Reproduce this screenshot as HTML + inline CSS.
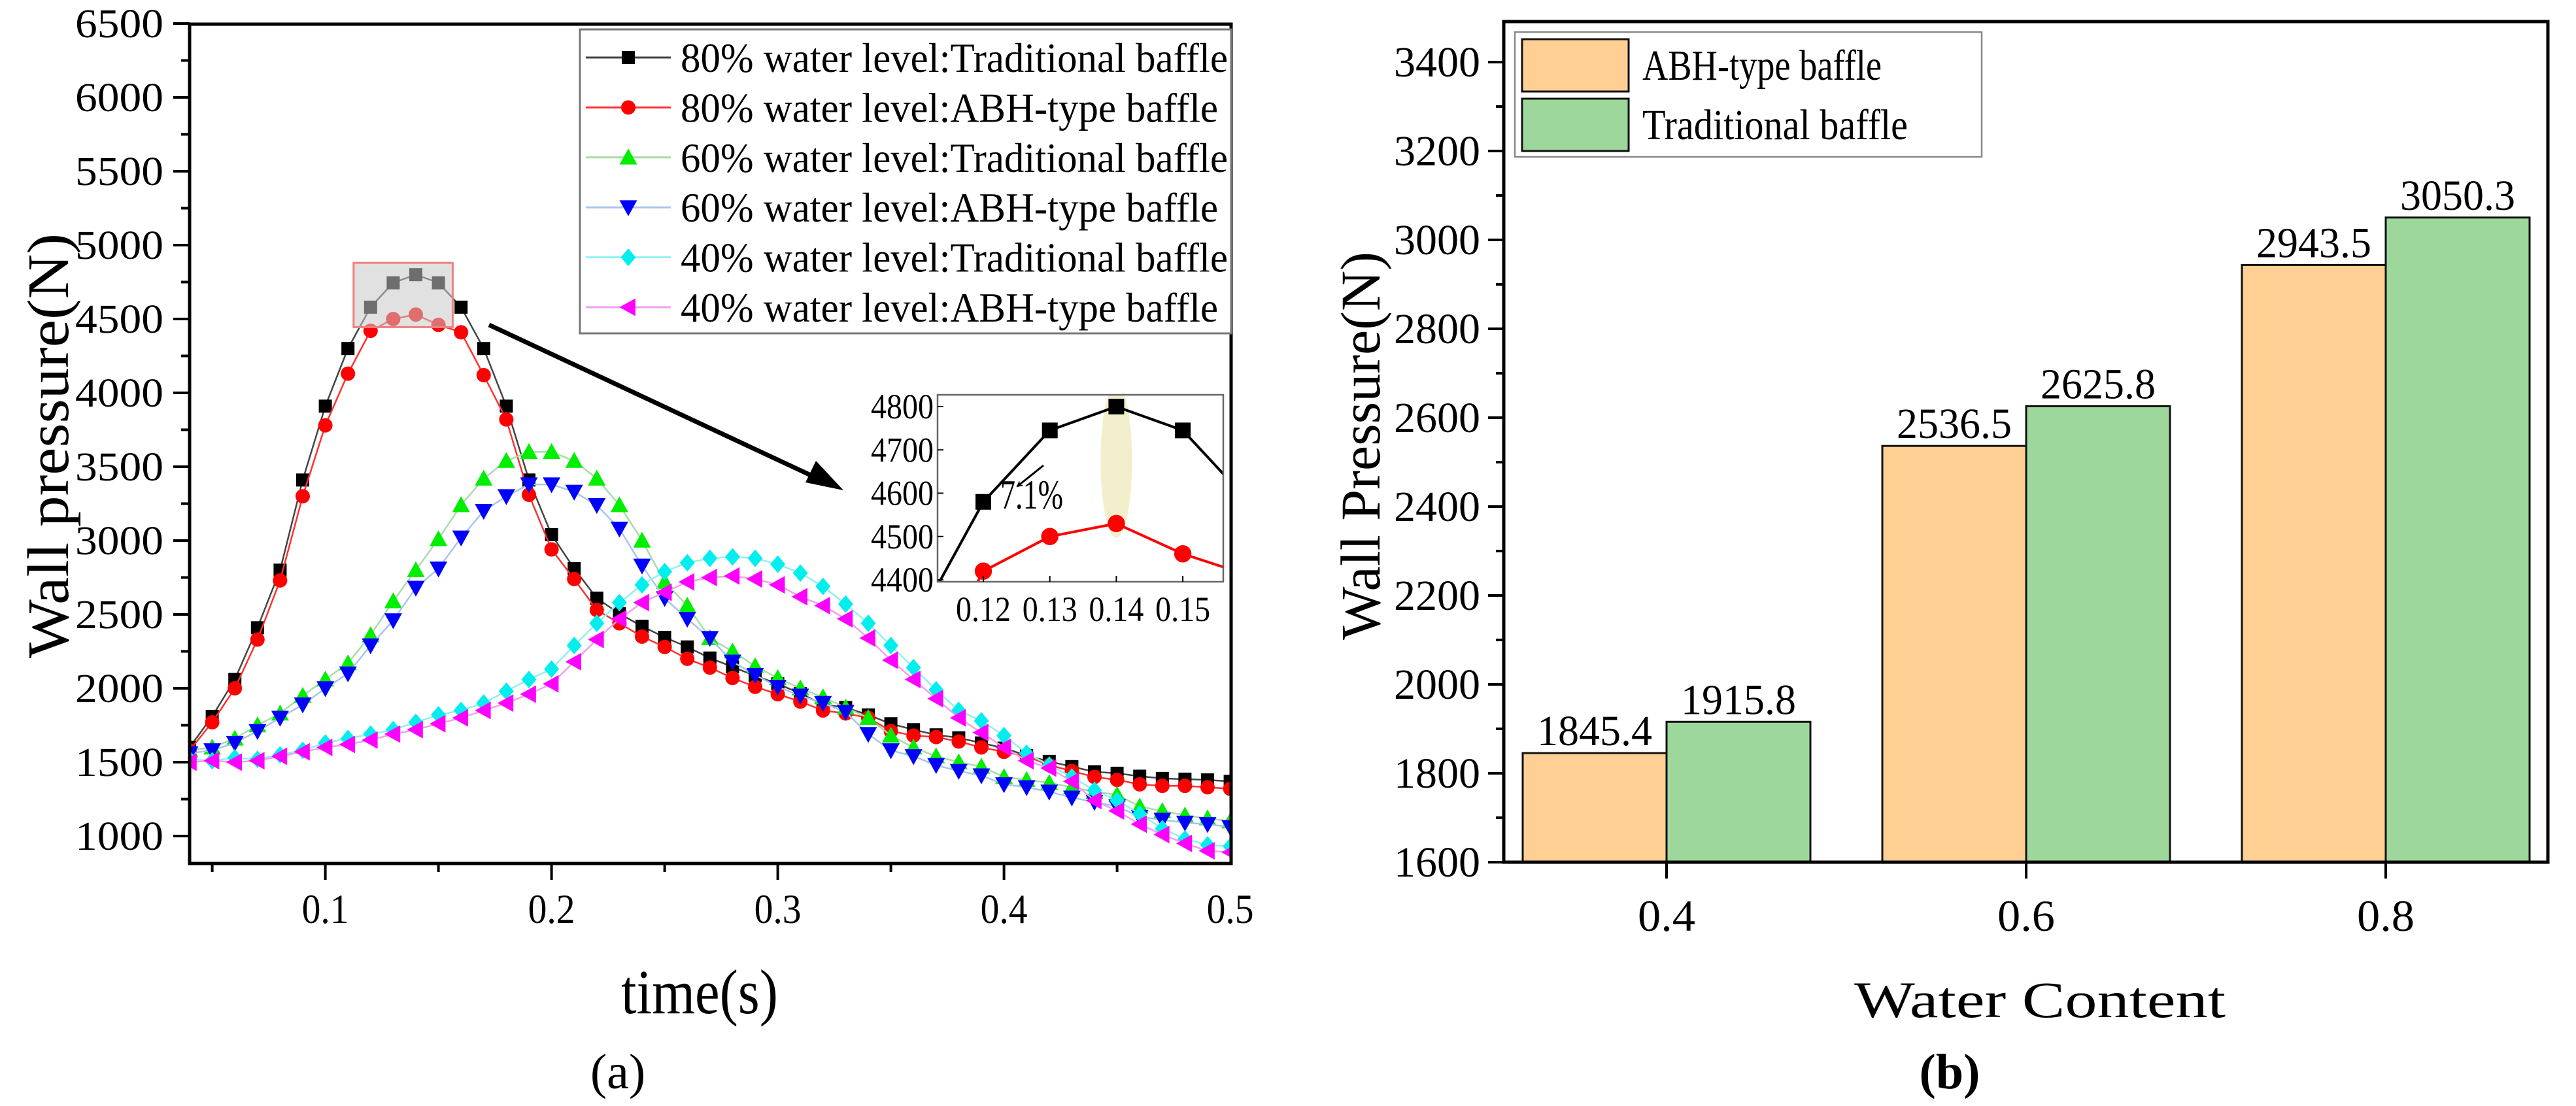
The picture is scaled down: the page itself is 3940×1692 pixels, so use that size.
<!DOCTYPE html>
<html><head><meta charset="utf-8"><style>
html,body{margin:0;padding:0;background:#fff;width:3940px;height:1692px;overflow:hidden;}
#wrap{position:relative;width:3940px;height:1692px;overflow:hidden;}
svg{position:absolute;left:0;top:0;display:block;font-family:"Liberation Serif",serif;}
</style></head><body>
<div id="wrap">
<svg id="fig" width="3940" height="1692" viewBox="0 0 3940 1692" xmlns="http://www.w3.org/2000/svg">
<defs>
<clipPath id="clipA"><rect x="290" y="37" width="1593" height="1284"/></clipPath>
<clipPath id="clipI"><rect x="1434" y="604" width="437" height="286"/></clipPath>
<marker id="ah" markerWidth="10" markerHeight="10" refX="8" refY="5" orient="auto" markerUnits="userSpaceOnUse" viewBox="0 0 10 10"><path d="M0,0 L10,5 L0,10 L3,5 z" fill="#000"/></marker>
</defs>
<g id="panelA"></g>
<g id="panelB"></g>
</svg>
</div>
<script>
// ---------- Panel (a) data ----------
const times = [0.04,0.05,0.06,0.07,0.08,0.09,0.10,0.11,0.12,0.13,0.14,0.15,0.16,0.17,0.18,0.19,0.20,0.21,0.22,0.23,0.24,0.25,0.26,0.27,0.28,0.29,0.30,0.31,0.32,0.33,0.34,0.35,0.36,0.37,0.38,0.39,0.40,0.41,0.42,0.43,0.44,0.45,0.46,0.47,0.48,0.49,0.50];
const trad80 = [1600,1810,2060,2410,2800,3410,3910,4300,4580,4745,4800,4745,4580,4300,3910,3410,3040,2810,2610,2505,2420,2345,2280,2205,2145,2085,2030,1965,1890,1870,1820,1760,1720,1685,1665,1630,1595,1545,1505,1470,1435,1425,1405,1390,1385,1380,1370];
const abh80 = [1580,1770,2000,2330,2730,3300,3780,4130,4420,4500,4530,4460,4410,4120,3820,3310,2940,2740,2530,2440,2350,2280,2200,2140,2070,2010,1960,1910,1850,1830,1800,1710,1680,1670,1640,1600,1570,1540,1480,1440,1400,1380,1350,1340,1340,1330,1320];
const trad60 = [1580,1600,1660,1750,1830,1950,2060,2170,2360,2590,2800,3010,3240,3420,3540,3600,3600,3540,3420,3240,3000,2720,2560,2340,2250,2150,2070,2000,1940,1870,1800,1680,1600,1540,1500,1470,1400,1380,1360,1330,1300,1280,1200,1170,1140,1120,1100];
const abh60 = [1560,1580,1630,1710,1800,1890,2000,2100,2290,2460,2680,2810,3020,3200,3300,3380,3380,3330,3240,3080,2830,2610,2470,2340,2180,2090,2010,1950,1900,1840,1690,1580,1540,1480,1440,1410,1350,1330,1300,1260,1230,1200,1130,1110,1090,1080,1060];
const trad40 = [1520,1510,1530,1520,1550,1580,1630,1660,1690,1720,1770,1820,1850,1900,1980,2060,2130,2290,2440,2580,2700,2790,2850,2880,2890,2880,2840,2780,2690,2570,2440,2290,2140,1990,1850,1780,1680,1560,1480,1400,1310,1240,1150,1050,980,940,930];
const abh40 = [1500,1510,1500,1510,1540,1570,1600,1620,1650,1690,1720,1760,1800,1850,1900,1960,2030,2180,2330,2470,2580,2650,2720,2750,2760,2740,2700,2620,2560,2470,2340,2190,2060,1930,1800,1700,1600,1510,1460,1370,1240,1170,1080,1010,950,900,890];
const seriesNames = ["80% water level:Traditional baffle","80% water level:ABH-type baffle","60% water level:Traditional baffle","60% water level:ABH-type baffle","40% water level:Traditional baffle","40% water level:ABH-type baffle"];
const yTicksA = [1000,1500,2000,2500,3000,3500,4000,4500,5000,5500,6000,6500];
const xTicksA = [0.1,0.2,0.3,0.4,0.5];
const insetYTicks = [4400,4500,4600,4700,4800];
const insetXTicks = [0.12,0.13,0.14,0.15];
// ---------- Panel (b) data ----------
const categories = ["0.4","0.6","0.8"];
const catValues = [0.4,0.6,0.8];
const abhValues = [1845.4,2536.5,2943.5];
const tradValues = [1915.8,2625.8,3050.3];
const yTicksB = [1600,1800,2000,2200,2400,2600,2800,3000,3200,3400];

const NS="http://www.w3.org/2000/svg";
function mk(tag, attrs, parent, text){
  const e=document.createElementNS(NS,tag);
  for(const k in attrs) e.setAttribute(k,attrs[k]);
  if(tag==='text'){ e.setAttribute('font-family','Liberation Serif, serif'); e.style.fontFamily='"Liberation Serif", serif'; }
  if(text!==undefined) e.textContent=text;
  parent.appendChild(e); return e;
}
const xA = t => 290 + (t-0.04)*3460;
const yA = v => 1279 - (v-1000)*0.226;
const pA = document.getElementById('panelA');

for(let v=1000; v<=6500; v+=250){
  const major = v%500===0;
  const t = mk('line',{x1:290,x2:major?265:277,y1:yA(v),y2:yA(v),stroke:'#000','stroke-width':4},pA);
  
  
}
yTicksA.forEach(v=>{
  const t = mk('text',{x:250,y:yA(v)+21,'text-anchor':'end','font-size':62,textLength:135,lengthAdjust:'spacingAndGlyphs'},pA,String(v));
  
  
});
for(let k=1;k<=9;k++){
  const x = xA(k*0.05); const major = k%2===0;
  const t = mk('line',{x1:x,x2:x,y1:1321,y2:major?1346:1334,stroke:'#000','stroke-width':4},pA);
  
  
}
xTicksA.forEach(v=>{
  const t = mk('text',{x:xA(v),y:1412,'text-anchor':'middle','font-size':64,textLength:72,lengthAdjust:'spacingAndGlyphs'},pA,String(v));
  
  
});

const styles = [
  {data:trad80, line:'#444', fill:'#000', m:'square'},
  {data:abh80, line:'#ff3030', fill:'#ff0000', m:'circle'},
  {data:trad60, line:'#a8dca8', fill:'#00ee00', m:'up'},
  {data:abh60, line:'#a8c4f0', fill:'#0000ff', m:'down'},
  {data:trad40, line:'#90f0f0', fill:'#00eeee', m:'diamond'},
  {data:abh40, line:'#f0a0f0', fill:'#ff00ff', m:'left'}
];
function marker(g, kind, x, y, fill, s){
  if(kind==='square') return mk('rect',{x:x-s,y:y-s,width:2*s,height:2*s,fill:fill},g);
  if(kind==='circle') return mk('circle',{cx:x,cy:y,r:s*1.1,fill:fill},g);
  let pts;
  const r=s*1.35;
  if(kind==='up') pts=[[x,y-r],[x+r,y+r*0.8],[x-r,y+r*0.8]];
  if(kind==='down') pts=[[x,y+r],[x+r,y-r*0.8],[x-r,y-r*0.8]];
  if(kind==='left') pts=[[x-r,y],[x+r*0.8,y-r],[x+r*0.8,y+r]];
  if(kind==='diamond') pts=[[x,y-r],[x+r*0.85,y],[x,y+r],[x-r*0.85,y]];
  return mk('polygon',{points:pts.map(p=>p.join(',')).join(' '),fill:fill},g);
}
const plotG = mk('g',{'clip-path':'url(#clipA)'},pA);


styles.forEach((s,i)=>{
  const g = mk('g',{},plotG);
  
  
  const d = s.data.map((v,j)=>(j?'L':'M')+xA(times[j]).toFixed(1)+','+yA(v).toFixed(1)).join(' ');
  const ln = mk('path',{d:d,fill:'none',stroke:s.line,'stroke-width':2.5},g);
  
  
  s.data.forEach((v,j)=>{
    const m = marker(g,s.m,xA(times[j]),yA(v),s.fill,10);
    
    
  });
});
const hb = mk('rect',{x:xA(0.1125),y:yA(4880),width:xA(0.1563)-xA(0.1125),height:yA(4445)-yA(4880),fill:'rgba(200,200,200,0.55)',stroke:'#f08080','stroke-width':3},pA);


const ar = mk('line',{x1:748,y1:497,x2:1272,y2:742,stroke:'#000','stroke-width':7},pA);


const arh = mk('polygon',{points:'1290,750 1232,738 1248,705',fill:'#000'},pA);



const fr = mk('rect',{x:290,y:37,width:1593,height:1284,fill:'none',stroke:'#000','stroke-width':5},pA);



const lg = mk('g',{},pA);


mk('rect',{x:887,y:45,width:996,height:465,fill:'#fff',stroke:'#777','stroke-width':3},lg);
seriesNames.forEach((n,i)=>{
  const y = 88 + i*76.4;
  const e = mk('g',{},lg);
  
  
  mk('line',{x1:896,x2:1026,y1:y,y2:y,stroke:styles[i].line,'stroke-width':3},e);
  marker(e,styles[i].m,961,y,styles[i].fill,10);
  mk('text',{x:1041,y:y+22,'font-size':64,textLength:n.indexOf('Traditional')>=0?837:822,lengthAdjust:'spacingAndGlyphs'},e,n);
});

// inset
const xI = t => 1504 + (t-0.12)*10170;
const yI = v => 887 - (v-4400)*0.6625;
const ig = mk('g',{},pA);


mk('rect',{x:1434,y:604,width:437,height:286,fill:'#fff'},ig);
const igc = mk('g',{'clip-path':'url(#clipI)'},ig);
const ell = mk('ellipse',{cx:xI(0.14),cy:yI(4675),rx:24,ry:118,fill:'rgba(235,228,170,0.6)'},igc);


[[trad80,'#000','square'],[abh80,'#ff0000','circle']].forEach((s,k)=>{
  const d = s[0].map((v,j)=>(j?'L':'M')+xI(times[j]).toFixed(1)+','+yI(v).toFixed(1)).join(' ');
  const p = mk('path',{d:d,fill:'none',stroke:s[1],'stroke-width':4},igc);
  
  
  s[0].forEach((v,j)=>{
    const m = marker(igc,s[2],xI(times[j]),yI(v),s[1],12);
    
    
  });
});
mk('rect',{x:1434,y:604,width:437,height:286,fill:'none',stroke:'#666','stroke-width':2.5},ig);
const sa = mk('line',{x1:1596,y1:712,x2:1556,y2:744,stroke:'#000','stroke-width':3,'marker-end':'url(#ah)'},ig);


const pt = mk('text',{x:1530,y:778,'font-size':64,textLength:96,lengthAdjust:'spacingAndGlyphs'},ig,'7.1%');


insetYTicks.forEach(v=>{
  mk('line',{x1:1434,x2:1443,y1:yI(v),y2:yI(v),stroke:'#000','stroke-width':2},ig);
  const t = mk('text',{x:1428,y:yI(v)+18,'text-anchor':'end','font-size':54,textLength:96,lengthAdjust:'spacingAndGlyphs'},ig,String(v));
  
  
});
insetXTicks.forEach(v=>{
  mk('line',{x1:xI(v),x2:xI(v),y1:890,y2:881,stroke:'#000','stroke-width':2},ig);
  const t = mk('text',{x:xI(v),y:950,'text-anchor':'middle','font-size':54,textLength:84,lengthAdjust:'spacingAndGlyphs'},ig,v.toFixed(2));
  
  
});

const ytA = mk('text',{x:0,y:0,'font-size':90,'text-anchor':'middle',textLength:650,lengthAdjust:'spacingAndGlyphs',transform:'translate(104,682) rotate(-90)'},pA,'Wall pressure(N)');


const xtA = mk('text',{x:1070,y:1550,'font-size':96,'text-anchor':'middle',textLength:240,lengthAdjust:'spacingAndGlyphs'},pA,'time(s)');


const la = mk('text',{x:945,y:1665,'font-size':76,'text-anchor':'middle'},pA,'(a)');



// ---------- Panel (b) ----------
const pB = document.getElementById('panelB');
const xB = c => 2549 + (c-0.4)*2750;
const yB = v => 1319 - (v-1600)*0.68;
const barW = 0.08*2750;
for(let v=1600; v<=3400; v+=100){
  const major = v%200===0;
  const t = mk('line',{x1:2300,x2:major?2276:2288,y1:yB(v),y2:yB(v),stroke:'#000','stroke-width':4},pB);
  
  
}
yTicksB.forEach(v=>{
  const t = mk('text',{x:2264,y:yB(v)+22,'text-anchor':'end','font-size':66,textLength:132,lengthAdjust:'spacingAndGlyphs'},pB,String(v));
  
  
});
catValues.forEach((c,i)=>{
  const b1 = mk('rect',{x:xB(c)-barW,y:yB(abhValues[i]),width:barW,height:yB(1600)-yB(abhValues[i]),fill:'#ffcf94',stroke:'#111','stroke-width':3},pB);
  
  
  const b2 = mk('rect',{x:xB(c),y:yB(tradValues[i]),width:barW,height:yB(1600)-yB(tradValues[i]),fill:'#9dd79b',stroke:'#111','stroke-width':3},pB);
  
  
  const l1 = mk('text',{x:xB(c)-barW/2,y:yB(abhValues[i])-12,'text-anchor':'middle','font-size':66,textLength:176,lengthAdjust:'spacingAndGlyphs'},pB,abhValues[i].toFixed(1));
  
  
  const l2 = mk('text',{x:xB(c)+barW/2,y:yB(tradValues[i])-12,'text-anchor':'middle','font-size':66,textLength:176,lengthAdjust:'spacingAndGlyphs'},pB,tradValues[i].toFixed(1));
  
  
  const tk = mk('line',{x1:xB(c),x2:xB(c),y1:1319,y2:1344,stroke:'#000','stroke-width':4},pB);
  
  
  const tl = mk('text',{x:xB(c),y:1424,'text-anchor':'middle','font-size':68,textLength:88,lengthAdjust:'spacingAndGlyphs'},pB,categories[i]);
  
  
});
const frB = mk('rect',{x:2300,y:33,width:1597,height:1286,fill:'none',stroke:'#000','stroke-width':5},pB);


const lgB = mk('g',{},pB);


mk('rect',{x:2317,y:49,width:714,height:191,fill:'#fff',stroke:'#888','stroke-width':2.5},lgB);
[['ABH-type baffle','#ffcf94',60,366],['Traditional baffle','#9dd79b',151,406]].forEach(e=>{
  const g = mk('g',{},lgB);
  
  
  mk('rect',{x:2328,y:e[2],width:163,height:80,fill:e[1],stroke:'#111','stroke-width':3},g);
  mk('text',{x:2512,y:e[2]+62,'font-size':66,textLength:e[3],lengthAdjust:'spacingAndGlyphs'},g,e[0]);
});
const ytB = mk('text',{x:0,y:0,'font-size':86,'text-anchor':'middle',textLength:594,lengthAdjust:'spacingAndGlyphs',transform:'translate(2110,682) rotate(-90)'},pB,'Wall Pressure(N)');


const xtB = mk('text',{x:3120,y:1556,'font-size':78,'text-anchor':'middle',textLength:568,lengthAdjust:'spacingAndGlyphs'},pB,'Water Content');


const lb = mk('text',{x:2982,y:1665,'font-size':76,'text-anchor':'middle','font-weight':'bold'},pB,'(b)');


</script>
</body></html>
